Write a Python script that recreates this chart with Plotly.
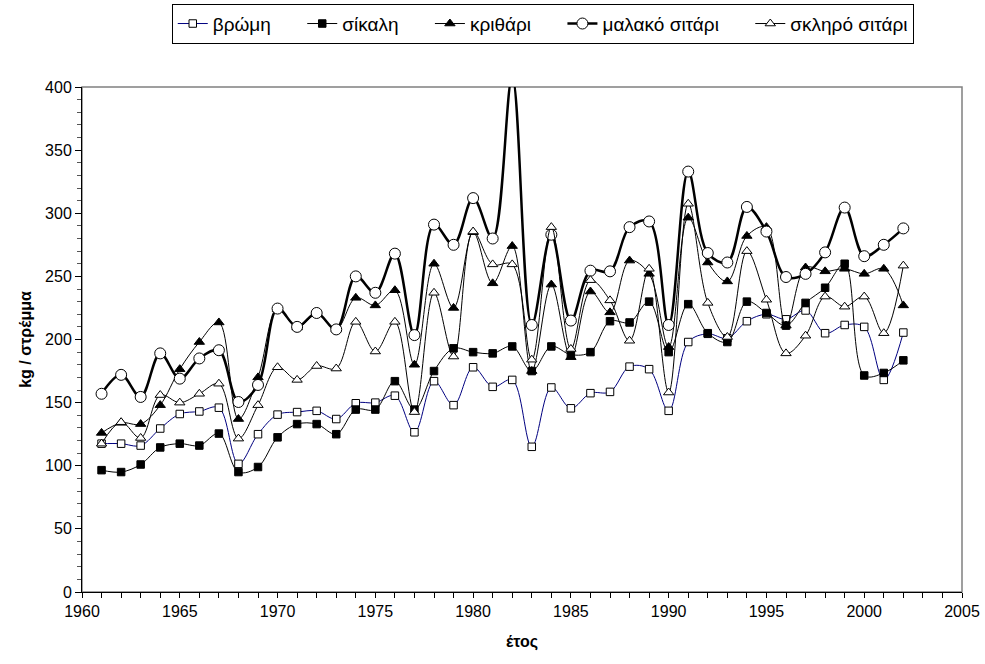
import plotly.graph_objects as go

years = list(range(1961, 2003))

vromi = [117.5, 117.5, 116, 129.5, 141, 143, 146, 101.5, 125, 140.5, 142.5, 143.5, 137, 149.5,
         150, 155.5, 126.5, 167, 148, 178, 162.5, 168, 115, 162, 145.5, 157.5, 158.5, 178.5,
         176.5, 143.5, 198, 204.5, 201, 214.5, 220, 216, 223, 205, 211.5, 210, 168, 205.5]

sikali = [96.5, 95, 101, 114.5, 117.5, 116, 125.5, 95, 99, 122.5, 133, 133, 125, 144.5,
          144.5, 167, 144.5, 175, 193, 190, 189, 194.5, 175, 194.5, 188, 190, 214.5, 213.5,
          230, 190, 228, 205, 198, 230, 221, 211, 229, 241, 260, 171.5, 173.5, 183.5]

krithari = [126, 134, 133, 148, 176.5, 198, 213.5, 137, 170, 224, 209.5, 220, 208, 233,
            227, 239, 180, 260, 225, 285, 244.5, 274, 175, 243.5, 186, 238, 221.5, 262.5,
            252, 194, 296.5, 261, 246, 282, 289, 211, 257, 254, 256, 252, 256, 227]

malako = [157, 172, 154.5, 189, 169, 185, 191.5, 150.5, 164, 224.5, 210, 221, 208, 250,
          237, 268, 203.5, 291, 275, 312, 280, 408, 211.5, 283, 215, 254.5, 254, 289,
          293.5, 211.5, 333, 268.5, 261, 305, 285.5, 249.5, 252, 269, 304.5, 266, 275, 288]

sklero = [117.5, 134.5, 122, 156, 150, 157, 165, 121.5, 148, 178, 168, 179, 177, 214,
          190.5, 214, 142.5, 237, 186.5, 285.5, 259.5, 259.5, 184, 289, 192.5, 247, 231, 199,
          256, 158, 307.5, 229, 202, 270, 231.5, 189, 203, 234, 226, 234, 205, 258.5]

names = ["βρώμη", "σίκαλη", "κριθάρι", "μαλακό σιτάρι", "σκληρό σιτάρι"]

FONT = "Liberation Sans, Arial, sans-serif"
PAD = "\u00a0" * 5

fig = go.Figure()

def add(name, vals, lcolor, lwidth, symbol, msize, mfill, pad=True):
    fig.add_trace(go.Scatter(
        x=years, y=vals, name=name + (PAD if pad else ""), mode="lines+markers",
        line=dict(color=lcolor, width=lwidth, shape="spline", smoothing=1.0),
        marker=dict(symbol=symbol, size=msize, color=mfill,
                    line=dict(color="black", width=1)),
    ))

add(names[0], vromi, "#000080", 1, "square", 7.5, "white")
add(names[1], sikali, "black", 1, "square", 7.5, "black")
add(names[2], krithari, "black", 1, "triangle-up", 9, "black")
add(names[3], malako, "black", 2.5, "circle", 11, "white")
add(names[4], sklero, "black", 1, "triangle-up", 9, "white", pad=False)

fig.update_layout(
    width=985, height=664,
    margin=dict(l=82, r=23, t=87, b=72, autoexpand=False),
    paper_bgcolor="white", plot_bgcolor="white",
    font=dict(family=FONT, size=16, color="black"),
    showlegend=True,
    legend=dict(
        orientation="h", x=0.102, y=1.165, xanchor="left", yanchor="top",
        bordercolor="black", borderwidth=1, bgcolor="white",
        font=dict(family=FONT, size=19), itemwidth=30,
    ),
    shapes=[dict(type="rect", xref="paper", yref="paper", x0=0, y0=0, x1=1, y1=1,
                 line=dict(color="#808080", width=1.5), layer="below")],
)

fig.update_xaxes(
    range=[1960, 2005], tick0=1960, dtick=5, showgrid=False, zeroline=False,
    showline=True, linecolor="black", linewidth=1,
    ticks="outside", ticklen=5, tickcolor="black",
    minor=dict(dtick=1, ticks="outside", ticklen=5, tickcolor="black", showgrid=False),
    tickfont=dict(family=FONT, size=16),
    title=dict(text="<b>έτος</b>", font=dict(family=FONT, size=16), standoff=16),
)
fig.update_yaxes(
    range=[0, 400], tick0=0, dtick=50, showgrid=False, zeroline=False,
    showline=True, linecolor="black", linewidth=1,
    ticks="outside", ticklen=6, tickcolor="black",
    minor=dict(dtick=10, ticks="outside", ticklen=4, tickcolor="#555555", showgrid=False),
    tickfont=dict(family=FONT, size=16),
    title=dict(text="<b>kg / στρέμμα</b>", font=dict(family=FONT, size=16), standoff=9),
)

fig.write_html("out.html")
